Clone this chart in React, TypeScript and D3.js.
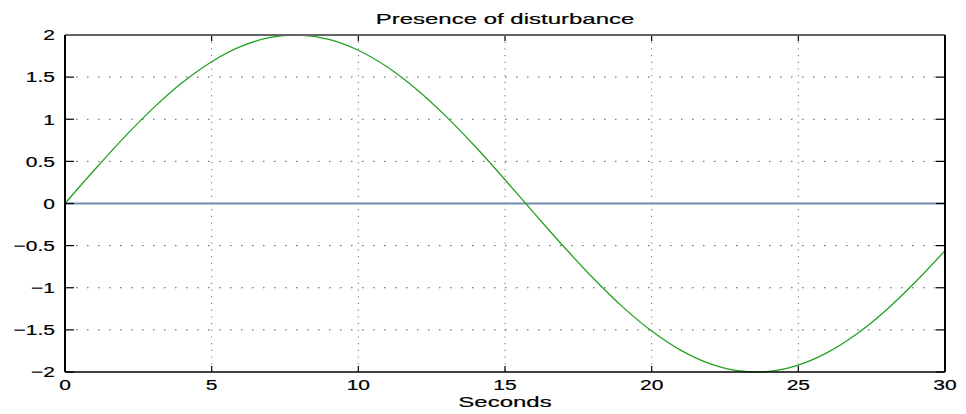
import React from "react";
import * as d3 from "d3";

// Time samples (seconds) and the measured responses
const seconds = [
  0, 1, 2, 3, 4, 5, 6, 7, 8, 9, 10, 11, 12, 13, 14, 15, 16, 17, 18, 19, 20,
  21, 22, 23, 24, 25, 26, 27, 28, 29, 30,
];
const disturbance = [
  0, 0.397, 0.779, 1.129, 1.435, 1.683, 1.864, 1.971, 1.999, 1.948, 1.819,
  1.617, 1.351, 1.031, 0.67, 0.282, -0.117, -0.511, -0.885, -1.224, -1.514,
  -1.743, -1.903, -1.987, -1.992, -1.918, -1.767, -1.546, -1.263, -0.929,
  -0.559,
];
const baselineTimes = [0, 30];
const baselineValues = [0, 0];

const xTicks = [0, 5, 10, 15, 20, 25, 30];
const yTicks = [2, 1.5, 1, 0.5, 0, -0.5, -1, -1.5, -2];

const title = "Presence of disturbance";
const xLabel = "Seconds";

const W = 966;
const H = 414;
const left = 65;
const right = 945;
const top = 35;
const bottom = 372;

const FONT = "'Liberation Sans', Arial, Helvetica, sans-serif";

function Stretched(props: {
  x: number;
  y: number;
  sx: number;
  size: number;
  anchor: string;
  children: React.ReactNode;
}) {
  return (
    <text
      transform={`translate(${props.x},${props.y}) scale(${props.sx},1)`}
      textAnchor={props.anchor}
      fontFamily={FONT}
      fontSize={props.size}
      fill="#000"
      stroke="#000"
      strokeWidth={0.2}
    >
      {props.children}
    </text>
  );
}

export default function App() {
  const x = d3.scaleLinear().domain([0, 30]).range([left, right]);
  const y = d3.scaleLinear().domain([-2, 2]).range([bottom, top]);
  const fmt = d3.format("");

  const line = d3
    .line<number>()
    .x((_, i) => x(seconds[i]))
    .y((d) => y(d))
    .curve(d3.curveCatmullRom.alpha(0.5));

  const flat = d3
    .line<number>()
    .x((_, i) => x(baselineTimes[i]))
    .y((d) => y(d));

  const gridColor = "#555";

  return (
    <svg
      width={W}
      height={H}
      style={{ position: "absolute", left: 0, top: 0, background: "#fff" }}
    >
      <rect x={0} y={0} width={W} height={H} fill="#fff" />

      {/* dotted grid */}
      {xTicks.slice(1, -1).map((t) => (
        <line
          key={"gx" + t}
          x1={x(t)}
          x2={x(t)}
          y1={top}
          y2={bottom}
          stroke={gridColor}
          strokeWidth={1}
          strokeDasharray="1 5.7"
        />
      ))}
      {yTicks.slice(1, -1).map((t) => (
        <line
          key={"gy" + t}
          x1={left}
          x2={right}
          y1={y(t)}
          y2={y(t)}
          stroke={gridColor}
          strokeWidth={1}
          strokeDasharray="1.5 9.5"
        />
      ))}

      {/* series */}
      <path
        d={flat(baselineValues) || ""}
        fill="none"
        stroke="#6f8bae"
        strokeWidth={2}
      />
      <path
        d={line(disturbance) || ""}
        fill="none"
        stroke="#22a022"
        strokeWidth={1.3}
      />

      {/* inward ticks */}
      {xTicks.map((t) => (
        <g key={"tx" + t}>
          <line x1={x(t)} x2={x(t)} y1={bottom} y2={bottom - 6} stroke="#000" strokeWidth={1.2} />
          <line x1={x(t)} x2={x(t)} y1={top} y2={top + 6} stroke="#000" strokeWidth={1.2} />
        </g>
      ))}
      {yTicks.map((t) => (
        <g key={"ty" + t}>
          <line x1={left} x2={left + 9} y1={y(t)} y2={y(t)} stroke="#000" strokeWidth={1.2} />
          <line x1={right} x2={right - 9} y1={y(t)} y2={y(t)} stroke="#000" strokeWidth={1.2} />
        </g>
      ))}

      {/* box */}
      <line x1={left} x2={right} y1={top} y2={top} stroke="#666" strokeWidth={2} />
      <line x1={right} x2={right} y1={top} y2={bottom} stroke="#000" strokeWidth={2} />
      <line x1={left} x2={right} y1={bottom} y2={bottom} stroke="#000" strokeWidth={1.6} />
      <line x1={left} x2={left} y1={top} y2={bottom} stroke="#000" strokeWidth={2} />

      {/* tick labels */}
      {yTicks.map((t) => (
        <Stretched key={"ly" + t} x={55} y={y(t) + 5.3} sx={1.4} size={15} anchor="end">
          {fmt(t)}
        </Stretched>
      ))}
      {xTicks.map((t) => (
        <Stretched key={"lx" + t} x={x(t)} y={390} sx={1.4} size={15} anchor="middle">
          {fmt(t)}
        </Stretched>
      ))}

      <Stretched x={(left + right) / 2} y={407} sx={1.6} size={15} anchor="middle">
        {xLabel}
      </Stretched>
      <Stretched x={(left + right) / 2} y={24} sx={1.6} size={15} anchor="middle">
        {title}
      </Stretched>
    </svg>
  );
}
